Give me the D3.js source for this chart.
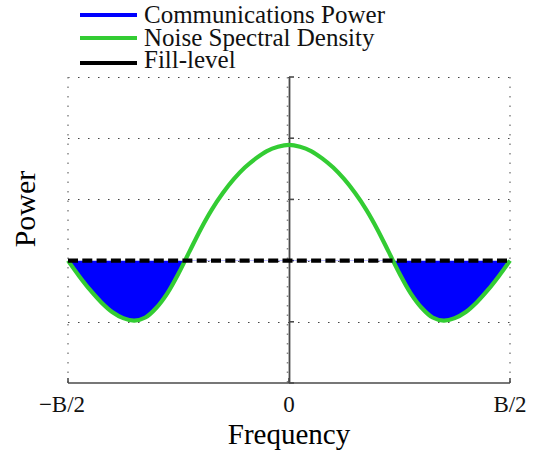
<!DOCTYPE html>
<html>
<head>
<meta charset="utf-8">
<script src="https://cdn.jsdelivr.net/npm/d3@7"></script>
<style>
  html, body { margin: 0; padding: 0; background: #fff; }
  svg { display: block; font-family: "Liberation Serif", "Times New Roman", serif; }
</style>
</head>
<body>
<svg id="chart" width="538" height="458"></svg>
<script>
// Normalised frequency (units of B/2) and noise spectral density samples
const freq = [-1.00, -0.95, -0.90, -0.85, -0.80, -0.75, -0.70, -0.65, -0.60, -0.55, -0.50,
              -0.45, -0.40, -0.35, -0.30, -0.25, -0.20, -0.15, -0.10, -0.05, 0.00,
               0.05,  0.10,  0.15,  0.20,  0.25,  0.30,  0.35,  0.40,  0.45, 0.50,
               0.55,  0.60,  0.65,  0.70,  0.75,  0.80,  0.85,  0.90,  0.95, 1.00];
const noise = [0.00, -0.25, -0.48, -0.68, -0.84, -0.94, -0.98, -0.93, -0.77, -0.53, -0.21,
               0.15,  0.51,  0.83,  1.10,  1.33,  1.52,  1.67,  1.79,  1.86,  1.89,
               1.86,  1.79,  1.67,  1.52,  1.33,  1.10,  0.83,  0.51,  0.15, -0.21,
              -0.53, -0.77, -0.93, -0.98, -0.94, -0.84, -0.68, -0.48, -0.25,  0.00];
const fillLevel = 0;

const xTicks = [-1, 0, 1];
const xTickLabels = ["\u2212B/2", "0", "B/2"];
const yTicks = [-2, -1, 0, 1, 2, 3];

const legendLabels = ["Communications Power", "Noise Spectral Density", "Fill-level"];
const legendColors = ["#0000ff", "#33cc33", "#000000"];

const svg = d3.select("#chart");
const x = d3.scaleLinear().domain([-1, 1]).range([68, 510]);
const y = d3.scaleLinear().domain([-2, 3]).range([383, 77]);

const pts = freq.map((f, i) => ({ f, v: noise[i] }));

// Dotted grid
const grid = svg.append("g");
grid.selectAll("line.gy").data(yTicks.filter(t => t !== -2)).join("line")
  .attr("x1", x(-1)).attr("x2", x(1))
  .attr("y1", d => Math.round(y(d)) + 0.5).attr("y2", d => Math.round(y(d)) + 0.5)
  .attr("stroke", "#444").attr("stroke-width", 1.2)
  .attr("stroke-dasharray", "1.5,8.5");
grid.selectAll("line.gx").data(xTicks).join("line")
  .attr("x1", d => Math.round(x(d)) - (d === 0 ? 1.5 : 0))
  .attr("x2", d => Math.round(x(d)) - (d === 0 ? 1.5 : 0))
  .attr("y1", y(3)).attr("y2", y(-2))
  .attr("stroke", "#888").attr("stroke-width", 1.5)
  .attr("stroke-dasharray", "1.5,8");

// Axes: horizontal at the bottom, vertical through the origin
const axisColor = "#4a4a4a";
svg.append("line")
  .attr("x1", x(-1)).attr("x2", x(1))
  .attr("y1", y(-2)).attr("y2", y(-2))
  .attr("stroke", axisColor).attr("stroke-width", 1.6);
svg.selectAll("line.xt").data(xTicks).join("line")
  .attr("x1", d => x(d)).attr("x2", d => x(d))
  .attr("y1", y(-2)).attr("y2", y(-2) - 5)
  .attr("stroke", axisColor).attr("stroke-width", 1.6);
svg.append("line")
  .attr("x1", x(0) + 0.5).attr("x2", x(0) + 0.5)
  .attr("y1", y(3)).attr("y2", y(-2))
  .attr("stroke", axisColor).attr("stroke-width", 1.8);
svg.selectAll("line.yt").data(yTicks).join("line")
  .attr("x1", x(0)).attr("x2", x(0) + 5)
  .attr("y1", d => y(d)).attr("y2", d => y(d))
  .attr("stroke", axisColor).attr("stroke-width", 1.6);

// Tick labels
svg.selectAll("text.xl").data(xTicks).join("text")
  .attr("x", d => x(d) + (d === -1 ? -6 : 0)).attr("y", 412)
  .attr("text-anchor", "middle").attr("font-size", 23).attr("fill", "#111")
  .text((d, i) => xTickLabels[i]);

// Axis titles
svg.append("text").attr("x", x(0)).attr("y", 444)
  .attr("text-anchor", "middle").attr("font-size", 29).text("Frequency");
svg.append("text")
  .attr("transform", "translate(35,209) rotate(-90)")
  .attr("text-anchor", "middle").attr("font-size", 30).text("Power");

// Communications power: region between the noise curve and the fill level
svg.append("clipPath").attr("id", "below")
  .append("rect").attr("x", 0).attr("y", y(fillLevel))
  .attr("width", 538).attr("height", 458);
const curve = d3.curveCatmullRom.alpha(0.5);
svg.append("path").datum(pts)
  .attr("clip-path", "url(#below)")
  .attr("fill", legendColors[0])
  .attr("d", d3.area().curve(curve).x(d => x(d.f)).y0(y(fillLevel)).y1(d => y(d.v)));

// Noise spectral density
svg.append("path").datum(pts)
  .attr("fill", "none").attr("stroke", legendColors[1]).attr("stroke-width", 4.2)
  .attr("stroke-linejoin", "round")
  .attr("d", d3.line().curve(curve).x(d => x(d.f)).y(d => y(d.v)));

// Fill level
svg.append("line")
  .attr("x1", x(-1)).attr("x2", x(1))
  .attr("y1", y(fillLevel)).attr("y2", y(fillLevel))
  .attr("stroke", legendColors[2]).attr("stroke-width", 4.2)
  .attr("stroke-dasharray", "10,4.3");

// Legend
const legY = [15, 38, 63];
const legBase = [23, 45.5, 68];
const leg = svg.append("g");
leg.selectAll("line").data(legendLabels).join("line")
  .attr("x1", 80).attr("x2", 137)
  .attr("y1", (d, i) => legY[i]).attr("y2", (d, i) => legY[i])
  .attr("stroke", (d, i) => legendColors[i]).attr("stroke-width", 4);
leg.selectAll("text").data(legendLabels).join("text")
  .attr("x", 144).attr("y", (d, i) => legBase[i])
  .attr("font-size", 25).attr("fill", "#111")
  .text(d => d);
</script>
</body>
</html>
